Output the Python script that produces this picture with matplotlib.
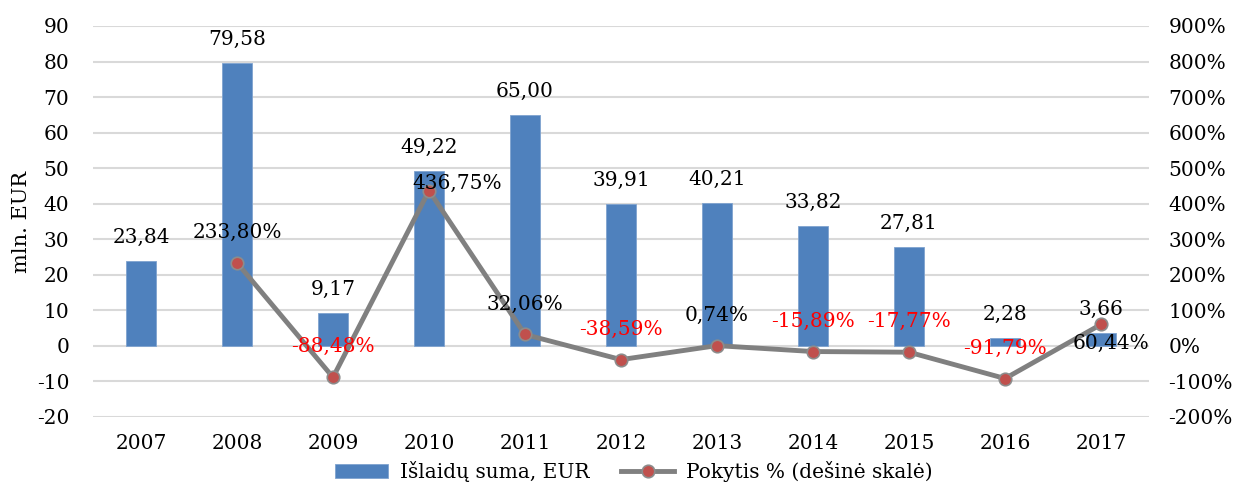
import numpy as np
import matplotlib.pyplot as plt
from matplotlib.ticker import FuncFormatter

plt.rcParams["font.family"] = ["DejaVu Serif"]
plt.rcParams["axes.unicode_minus"] = False

years = ["2007", "2008", "2009", "2010", "2011", "2012", "2013", "2014", "2015", "2016", "2017"]
spend = [23.84, 79.58, 9.17, 49.22, 65.00, 39.91, 40.21, 33.82, 27.81, 2.28, 3.66]
change_years = years[1:]
change = [233.80, -88.48, 436.75, 32.06, -38.59, 0.74, -15.89, -17.77, -91.79, 60.44]

def lt(v, pct=False):
    s = f"{v:.2f}".replace(".", ",")
    return s + "%" if pct else s

fig = plt.figure(figsize=(12.43, 4.93), dpi=100)
ax = fig.add_axes([0.0748, 0.1542, 0.8496, 0.7931])
ax2 = ax.twinx()

fs = 14.5
x = np.arange(len(years))
bars = ax.bar(x, spend, 0.31, color="#4F81BD", edgecolor="#7FA3CF", linewidth=0.6,
              zorder=2, label="Išlaidų suma, EUR")
for xi, v in zip(x, spend):
    ax.annotate(lt(v), (xi, v), xytext=(0, 17), textcoords="offset points",
                ha="center", va="center", fontsize=fs, color="black")

ax.set_xlim(-0.5, len(years) - 0.5)
ax.set_ylim(-20, 90)
ax.set_yticks(range(-20, 91, 10))
ax.set_xticks(x)
ax.set_xticklabels(years)
ax.grid(axis="y", color="#D9D9D9", linewidth=1.5, zorder=0)
ax.set_axisbelow(True)
ax.set_ylabel("mln. EUR", fontsize=15, labelpad=4)
ax.tick_params(axis="y", length=0, labelsize=fs, pad=17)
ax.tick_params(axis="x", length=0, labelsize=fs, pad=12)

xc = x[1:]
line, = ax2.plot(xc, change, color="#808080", linewidth=3.5, marker="o", markersize=9,
                 markerfacecolor="#C0504D", markeredgecolor="#8C8C8C", markeredgewidth=1.2,
                 zorder=3, label="Pokytis % (dešinė skalė)")
ax2.set_ylim(-200, 900)
ax2.set_yticks(range(-200, 901, 100))
ax2.yaxis.set_major_formatter(FuncFormatter(lambda v, p: f"{v:.0f}%"))
ax2.tick_params(axis="y", length=0, labelsize=fs, pad=14)

offsets = {"2010": (20, 5), "2017": (7, -14)}
for yr, xi, v in zip(change_years, xc, change):
    dx, dy = offsets.get(yr, (0, 22))
    ax2.annotate(lt(v, True), (xi, v), xytext=(dx, dy), textcoords="offset points",
                 ha="center", va="center", fontsize=fs,
                 color="red" if v < 0 else "black", zorder=4)

for a in (ax, ax2):
    for s in a.spines.values():
        s.set_visible(False)

fig.legend(handles=[bars, line], loc="lower center", bbox_to_anchor=(0.51, -0.015),
           ncol=2, frameon=False, fontsize=fs, handlelength=2.6, columnspacing=1.6,
           handletextpad=0.6)

fig.savefig("out.png", dpi=100)
